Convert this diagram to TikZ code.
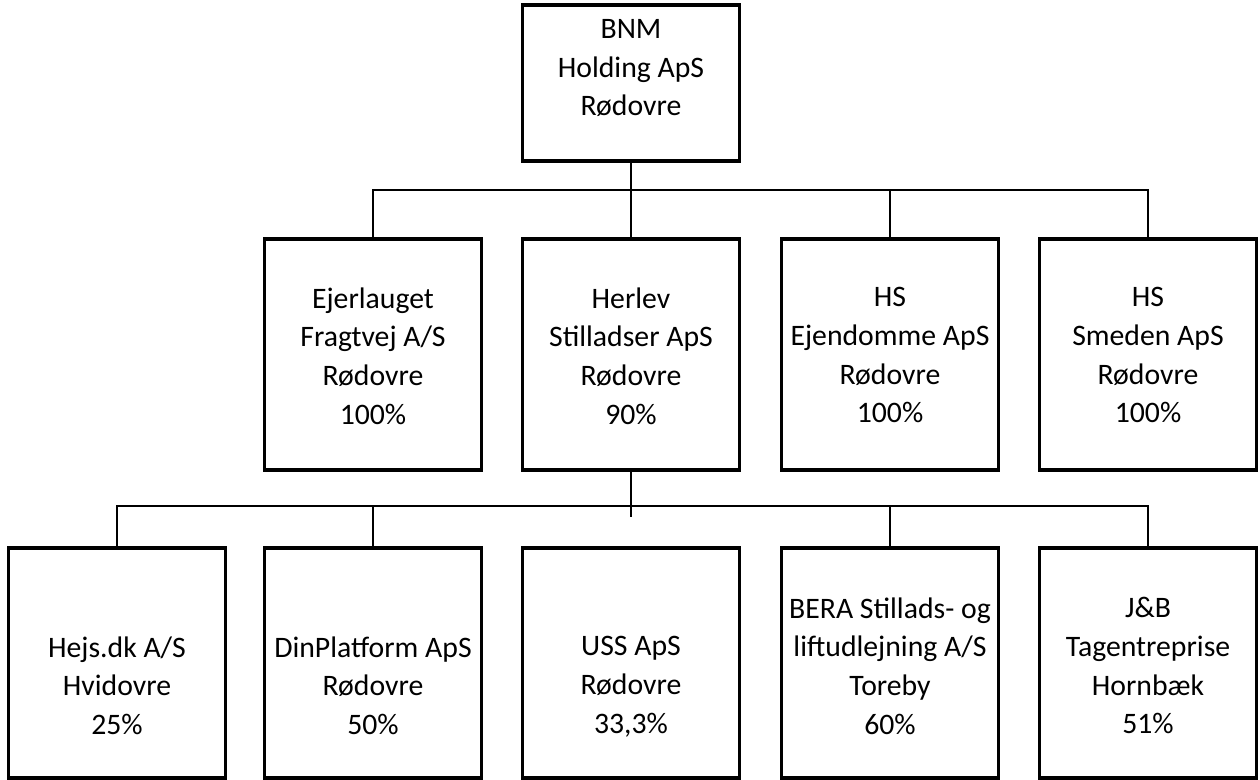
\documentclass[tikz,border=0pt]{standalone}
\usepackage{fontspec}
\setmainfont{Carlito}
\usetikzlibrary{positioning}
\tikzset{
  firm/.style={draw,rectangle,line width=2.3pt,minimum width=162.75pt,inner sep=0pt},
  firmtxt/.style={align=center,inner sep=0pt,outer sep=0pt,font=\fontsize{22.3}{29}\selectfont,execute at begin node=\strut},
  link/.style={line width=0.9pt}
}
\begin{document}
\begin{tikzpicture}[x=0.75pt,y=-0.75pt]
  \useasboundingbox (0,0) rectangle (1260,780);

  \node[firm,minimum height=117pt] (bnm) at (631,83) {};

  \node[firm,minimum height=173.25pt] (ejer) at (373,354.5) {};
  \node[firm,minimum height=173.25pt] (herlev) at (631,354.5) {};
  \node[firm,minimum height=173.25pt] (hsejd) at (890,354.5) {};
  \node[firm,minimum height=173.25pt] (smeden) at (1148,354.5) {};

  \node[firm,minimum height=172.5pt] (hejs) at (117,663) {};
  \node[firm,minimum height=172.5pt] (din) at (373,663) {};
  \node[firm,minimum height=172.5pt] (uss) at (631,663) {};
  \node[firm,minimum height=172.5pt] (bera) at (890,663) {};
  \node[firm,minimum height=172.5pt] (jb) at (1148,663) {};

  \node[firmtxt,below=12pt of bnm.north] (bnm-t) {BNM\\Holding ApS\\Rødovre};

  \node[firmtxt,below=37.5pt of ejer.north] (ejer-t) {Ejerlauget\\Fragtvej A/S\\Rødovre\\100\%};
  \node[firmtxt,below=37.5pt of herlev.north] (herlev-t) {Herlev\\Stilladser ApS\\Rødovre\\90\%};
  \node[firmtxt,below=37.5pt of hsejd.north] (hsejd-t) {HS\\Ejendomme ApS\\Rødovre\\100\%};
  \node[firmtxt,below=37.5pt of smeden.north] (smeden-t) {HS\\Smeden ApS\\Rødovre\\100\%};

  \node[firmtxt,below=67.5pt of hejs.north] (hejs-t) {Hejs.dk A/S\\Hvidovre\\25\%};
  \node[firmtxt,below=67.5pt of din.north] (din-t) {DinPlatform ApS\\Rødovre\\50\%};
  \node[firmtxt,below=67.5pt of uss.north] (uss-t) {USS ApS\\Rødovre\\33,3\%};
  \node[firmtxt,below=38.25pt of bera.north] (bera-t) {BERA Stillads- og\\liftudlejning A/S\\Toreby\\60\%};
  \node[firmtxt,below=38.25pt of jb.north] (jb-t) {J\&B\\Tagentreprise\\Hornbæk\\51\%};

  \coordinate (bus1) at (631,190);
  \draw[link](bnm)--(herlev);
  \draw[link](ejer.north) |- (bus1) -| (smeden.north);
  \draw[link](hsejd.north)--(hsejd.north |- bus1);

  \coordinate (bus2) at (631,506);
  \draw[link](herlev.south)--++(0,45);
  \draw[link](hejs.north) |- (bus2) -| (jb.north);
  \draw[link](din.north)--(din.north |- bus2);
  \draw[link](bera.north)--(bera.north |- bus2);
\end{tikzpicture}
\end{document}
